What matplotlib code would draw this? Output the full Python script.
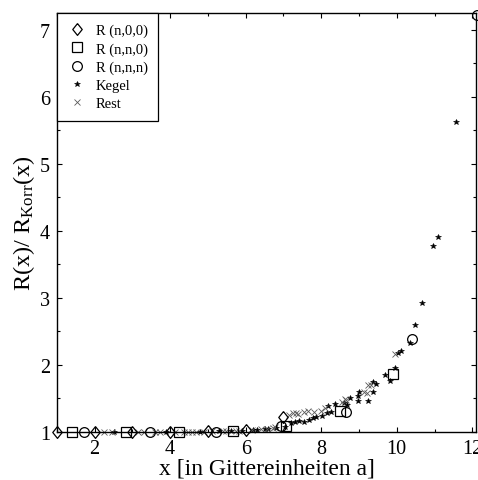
import numpy as np
import matplotlib
matplotlib.use('Agg')
import matplotlib.pyplot as plt
from matplotlib.ticker import MultipleLocator

plt.rcParams['font.family'] = ['Liberation Serif', 'DejaVu Serif']
plt.rcParams['mathtext.fontset'] = 'custom'
plt.rcParams['mathtext.rm'] = 'Liberation Serif'
plt.rcParams['mathtext.it'] = 'Liberation Serif:italic'

# R(n,0,0): x = n
x_n00 = [1, 2, 3, 4, 5, 6, 7]
y_n00 = [1.0, 1.0, 1.0, 1.0, 1.01, 1.03, 1.23]
# R(n,n,0): x = n*sqrt(2)
x_nn0 = [1.41, 2.83, 4.24, 5.66, 7.07, 8.49, 9.90]
y_nn0 = [1.0, 1.0, 1.0, 1.02, 1.09, 1.31, 1.87]
# R(n,n,n): x = n*sqrt(3)
x_nnn = [1.73, 3.46, 5.20, 6.93, 8.66, 10.39, 12.12]
y_nnn = [1.0, 1.0, 1.0, 1.09, 1.30, 2.39, 7.22]

x_kegel = [2.52, 3.9, 4.8, 5.3, 5.6, 5.9, 6.2, 6.3, 6.5, 6.6, 6.8, 7.03, 7.2, 7.31,
           7.42, 7.55, 7.68, 7.77, 7.87, 8.03, 8.14, 8.19, 8.27, 8.36, 8.59, 8.67,
           8.77, 8.96, 8.96, 9.01, 9.25, 9.36, 9.38, 9.46, 9.68, 9.83, 9.94, 10.03,
           10.10, 10.34, 10.47, 10.66, 10.97, 11.08, 11.58]
y_kegel = [1.0, 1.0, 1.0, 1.01, 1.01, 1.02, 1.03, 1.03, 1.04, 1.05, 1.06, 1.08, 1.13, 1.15,
           1.16, 1.15, 1.18, 1.21, 1.22, 1.24, 1.28, 1.39, 1.30, 1.42, 1.43, 1.40,
           1.51, 1.46, 1.54, 1.60, 1.46, 1.60, 1.75, 1.72, 1.85, 1.76, 1.96, 2.18,
           2.21, 2.33, 2.60, 2.93, 3.77, 3.91, 5.63]

x_rest = [2.24, 2.45, 3.16, 3.32, 3.61, 3.74, 4.12, 4.36, 4.47, 4.58, 4.69, 4.90, 5.10,
          5.39, 5.48, 5.74, 5.83, 6.16, 6.40, 6.56, 6.71, 6.78, 7.14, 7.24, 7.33, 7.38,
          7.55, 7.64, 7.82, 8.0, 8.09, 8.56, 8.62, 8.65, 9.12, 9.20, 9.25, 9.33, 9.95]
y_rest = [1.0, 1.0, 1.0, 1.0, 1.0, 1.0, 1.0, 1.0, 1.0, 1.0, 1.0, 1.0, 1.01,
          1.01, 1.01, 1.02, 1.02, 1.03, 1.04, 1.05, 1.06, 1.07, 1.25, 1.28, 1.28, 1.27,
          1.30, 1.31, 1.30, 1.31, 1.36, 1.45, 1.49, 1.48, 1.60, 1.58, 1.70, 1.70, 2.16]

diamond = [(0, 1), (0.8, 0), (0, -1), (-0.8, 0), (0, 1)]

fig = plt.figure(figsize=(4.78, 4.81), dpi=100)
ax = fig.add_axes([0.119, 0.0998, 0.877, 0.871])

kw = dict(linestyle='none', color='black', markerfacecolor='none', clip_on=False, zorder=3)
ax.plot(x_n00, y_n00, marker=diamond, markersize=8.5, markeredgewidth=0.9, label='R (n,0,0)', **kw)
ax.plot(x_nn0, y_nn0, marker='s', markersize=7, markeredgewidth=0.9, label='R (n,n,0)', **kw)
ax.plot(x_nnn, y_nnn, marker='o', markersize=7, markeredgewidth=0.9, label='R (n,n,n)', **kw)
ax.plot(x_kegel, y_kegel, linestyle='none', marker='*', color='black', markersize=4,
        markeredgewidth=0.4, clip_on=False, label='Kegel')
ax.plot(x_rest, y_rest, linestyle='none', marker='x', color='0.35', markersize=4.5,
        markeredgewidth=0.6, clip_on=False, label='Rest')

ax.set_xlim(1, 12.1)
ax.set_ylim(1, 7.25)
ax.xaxis.set_major_locator(MultipleLocator(2))
ax.xaxis.set_minor_locator(MultipleLocator(1))
ax.yaxis.set_major_locator(MultipleLocator(1))
ax.yaxis.set_minor_locator(MultipleLocator(0.5))
ax.tick_params(which='both', direction='in', top=True, right=True, labelsize=14.5)
ax.tick_params(which='major', length=3.5, width=0.8)
ax.tick_params(which='minor', length=2, width=0.8)
ax.tick_params(axis='x', pad=5)
ax.tick_params(axis='y', pad=5)
for s in ax.spines.values():
    s.set_linewidth(1.0)

ax.set_xlabel('x [in Gittereinheiten a]', fontsize=17, labelpad=0)
ax.set_ylabel(r'R(x)/ R$_{\mathrm{Korr}}$(x)', fontsize=17.5, labelpad=2)

leg = ax.legend(loc='upper left', borderaxespad=0, fontsize=10.5, fancybox=False,
                edgecolor='black', framealpha=1, handlelength=1.2, handletextpad=0.7,
                borderpad=0.75, labelspacing=0.33)
leg.get_frame().set_linewidth(0.9)

fig.savefig('out.png', dpi=100)
